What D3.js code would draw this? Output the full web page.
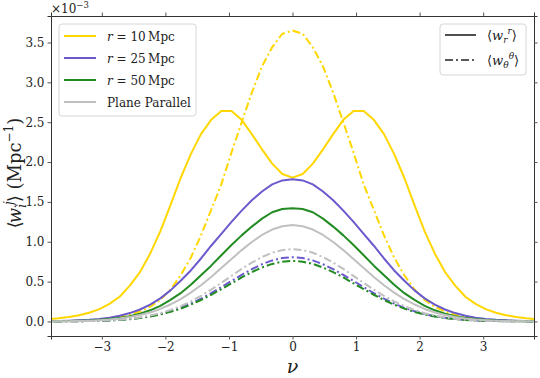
<!DOCTYPE html>
<html>
<head>
<meta charset="utf-8">
<script src="https://cdn.jsdelivr.net/npm/d3@7"></script>
<style>
  body { margin: 0; background: #fff; }
  text, tspan { font-family: "DejaVu Serif", "Liberation Serif", "Times New Roman", serif; fill: #222; }
</style>
</head>
<body>
<div id="chart"></div>
<script>
// nu grid of the curves
const nu = [-4.00, -3.84, -3.68, -3.52, -3.36, -3.20, -3.04, -2.88, -2.72, -2.56, -2.40, -2.24, -2.08,
  -1.92, -1.76, -1.60, -1.44, -1.28, -1.12, -0.96, -0.80, -0.64, -0.48, -0.32, -0.16, 0.00,
  0.16, 0.32, 0.48, 0.64, 0.80, 0.96, 1.12, 1.28, 1.44, 1.60, 1.76, 1.92, 2.08, 2.24, 2.40,
  2.56, 2.72, 2.88, 3.04, 3.20, 3.36, 3.52, 3.68, 3.84, 4.00];

// values in units of 1e-3 Mpc^-1
const r10rr = [0.02, 0.028, 0.039, 0.055, 0.078, 0.11, 0.155, 0.22, 0.31, 0.45, 0.62, 0.85, 1.13,
  1.46, 1.80, 2.10, 2.35, 2.53, 2.64, 2.64, 2.53, 2.35, 2.16, 1.98, 1.85, 1.805,
  1.85, 1.98, 2.16, 2.35, 2.53, 2.64, 2.64, 2.53, 2.35, 2.10, 1.80, 1.46, 1.13, 0.85, 0.62,
  0.45, 0.31, 0.22, 0.155, 0.11, 0.078, 0.055, 0.039, 0.028, 0.02];
const r10tt = [0.0015, 0.0025, 0.004, 0.006, 0.009, 0.014, 0.022, 0.035, 0.055, 0.085, 0.125, 0.185, 0.27,
  0.40, 0.58, 0.80, 1.08, 1.40, 1.72, 2.12, 2.50, 2.87, 3.20, 3.44, 3.61, 3.65,
  3.61, 3.44, 3.20, 2.87, 2.50, 2.12, 1.72, 1.40, 1.08, 0.80, 0.58, 0.40, 0.27, 0.185, 0.125,
  0.085, 0.055, 0.035, 0.022, 0.014, 0.009, 0.006, 0.004, 0.0025, 0.0015];
const r25rr = [0.003, 0.004, 0.006, 0.009, 0.014, 0.021, 0.032, 0.048, 0.072, 0.105, 0.15, 0.21, 0.29,
  0.39, 0.51, 0.64, 0.79, 0.95, 1.10, 1.25, 1.39, 1.52, 1.63, 1.72, 1.77, 1.785,
  1.77, 1.72, 1.63, 1.52, 1.39, 1.25, 1.10, 0.95, 0.79, 0.64, 0.51, 0.39, 0.29, 0.21, 0.15,
  0.105, 0.072, 0.048, 0.032, 0.021, 0.014, 0.009, 0.006, 0.004, 0.003];
const r25tt = [0.0003, 0.0005, 0.001, 0.002, 0.003, 0.005, 0.008, 0.013, 0.020, 0.030, 0.045, 0.066, 0.093,
  0.128, 0.171, 0.224, 0.286, 0.355, 0.430, 0.508, 0.585, 0.657, 0.718, 0.766, 0.796, 0.806,
  0.796, 0.766, 0.718, 0.657, 0.585, 0.508, 0.430, 0.355, 0.286, 0.224, 0.171, 0.128, 0.093, 0.066, 0.045,
  0.030, 0.020, 0.013, 0.008, 0.005, 0.003, 0.002, 0.001, 0.0005, 0.0003];
const r50rr = [0.001, 0.002, 0.003, 0.005, 0.008, 0.013, 0.02, 0.03, 0.045, 0.067, 0.098, 0.14, 0.195,
  0.27, 0.355, 0.46, 0.58, 0.70, 0.83, 0.96, 1.08, 1.19, 1.29, 1.37, 1.41, 1.42,
  1.41, 1.37, 1.29, 1.19, 1.08, 0.96, 0.83, 0.70, 0.58, 0.46, 0.355, 0.27, 0.195, 0.14, 0.098,
  0.067, 0.045, 0.03, 0.02, 0.013, 0.008, 0.005, 0.003, 0.002, 0.001];
const r50tt = [0.0003, 0.0005, 0.001, 0.002, 0.003, 0.005, 0.007, 0.012, 0.019, 0.029, 0.043, 0.062, 0.087,
  0.120, 0.161, 0.211, 0.269, 0.335, 0.405, 0.479, 0.552, 0.619, 0.677, 0.722, 0.750, 0.76,
  0.750, 0.722, 0.677, 0.619, 0.552, 0.479, 0.405, 0.335, 0.269, 0.211, 0.161, 0.120, 0.087, 0.062, 0.043,
  0.029, 0.019, 0.012, 0.007, 0.005, 0.003, 0.002, 0.001, 0.0005, 0.0003];
const pprr = [0.0008, 0.0013, 0.0022, 0.0037, 0.006, 0.0098, 0.0155, 0.024, 0.037, 0.055, 0.080, 0.113, 0.157,
  0.213, 0.281, 0.362, 0.455, 0.559, 0.670, 0.783, 0.895, 0.997, 1.085, 1.153, 1.195, 1.21,
  1.195, 1.153, 1.085, 0.997, 0.895, 0.783, 0.670, 0.559, 0.455, 0.362, 0.281, 0.213, 0.157, 0.113, 0.080,
  0.055, 0.037, 0.024, 0.0155, 0.0098, 0.006, 0.0037, 0.0022, 0.0013, 0.0008];
const pptt = [0.0003, 0.0006, 0.001, 0.002, 0.003, 0.005, 0.009, 0.014, 0.022, 0.034, 0.051, 0.074, 0.104,
  0.144, 0.193, 0.252, 0.322, 0.399, 0.484, 0.572, 0.659, 0.739, 0.808, 0.862, 0.895, 0.907,
  0.895, 0.862, 0.808, 0.739, 0.659, 0.572, 0.484, 0.399, 0.322, 0.252, 0.193, 0.144, 0.104, 0.074, 0.051,
  0.034, 0.022, 0.014, 0.009, 0.005, 0.003, 0.002, 0.001, 0.0006, 0.0003];

const seriesLabels = ["10", "25", "50", "Plane Parallel"];
const seriesColors = ["#FFD700", "#6A5ACD", "#228B22", "#C0C0C0"];
const seriesRR = [r10rr, r25rr, r50rr, pprr];
const seriesTT = [r10tt, r25tt, r50tt, pptt];

const xTicks = [-3, -2, -1, 0, 1, 2, 3];
const yTicks = [0, 0.5, 1.0, 1.5, 2.0, 2.5, 3.0, 3.5];
const xDomain = [-3.8, 3.8];
const yDomain = [-0.1825, 3.8325];

const W = 540, H = 378;
const margin = { top: 16, right: 6, bottom: 42, left: 51 };
const dashDot = "8,3,2,3";
const serif = '"DejaVu Serif", "Liberation Serif", serif';

const svg = d3.select('#chart').append('svg')
  .attr('width', W)
  .attr('height', H)
  .attr('viewBox', [0, 0, W, H])
  .attr('font-family', serif);

const x = d3.scaleLinear().domain(xDomain).range([margin.left, W - margin.right]);
const y = d3.scaleLinear().domain(yDomain).range([H - margin.bottom, margin.top]);

svg.append('clipPath').attr('id', 'plot-clip')
  .append('rect')
  .attr('x', margin.left).attr('y', margin.top)
  .attr('width', W - margin.left - margin.right)
  .attr('height', H - margin.top - margin.bottom);

// curves
const line = d3.line().x(d => x(d[0])).y(d => y(d[1]));
const curves = svg.append('g').attr('clip-path', 'url(#plot-clip)');
seriesLabels.forEach((lab, i) => {
  curves.append('path')
    .datum(nu.map((v, k) => [v, seriesRR[i][k]]))
    .attr('d', line)
    .attr('fill', 'none')
    .attr('stroke', seriesColors[i])
    .attr('stroke-width', 2)
    .attr('stroke-linejoin', 'round');
  curves.append('path')
    .datum(nu.map((v, k) => [v, seriesTT[i][k]]))
    .attr('d', line)
    .attr('fill', 'none')
    .attr('stroke', seriesColors[i])
    .attr('stroke-width', 2)
    .attr('stroke-dasharray', dashDot);
});

// axes, ticks on all four sides
const fmt = d3.format('.1f');
const axisStyle = (g, showLabels) => {
  g.attr('font-family', serif);
  g.select('.domain').attr('stroke', '#333');
  g.selectAll('.tick line').attr('stroke', '#555');
  g.selectAll('.tick text')
    .style('font-family', serif)
    .style('font-size', '12px')
    .attr('fill', '#333');
  if (!showLabels) g.selectAll('.tick text').remove();
};

svg.append('g')
  .attr('transform', `translate(0,${H - margin.bottom})`)
  .call(d3.axisBottom(x).tickValues(xTicks).tickSizeOuter(0).tickSize(3.5).tickPadding(3)
    .tickFormat(d => d < 0 ? '\u2212' + Math.abs(d) : d))
  .call(g => axisStyle(g, true));
svg.append('g')
  .attr('transform', `translate(0,${margin.top})`)
  .call(d3.axisTop(x).tickValues(xTicks).tickSizeOuter(0).tickSize(3.5))
  .call(g => axisStyle(g, false));
svg.append('g')
  .attr('transform', `translate(${margin.left},0)`)
  .call(d3.axisLeft(y).tickValues(yTicks).tickSizeOuter(0).tickSize(3.5).tickPadding(3).tickFormat(fmt))
  .call(g => axisStyle(g, true));
svg.append('g')
  .attr('transform', `translate(${W - margin.right},0)`)
  .call(d3.axisRight(y).tickValues(yTicks).tickSizeOuter(0).tickSize(3.5))
  .call(g => axisStyle(g, false));

// small helper to write math-like text with tspans
function mathText(sel, parts) {
  parts.forEach(p => {
    const t = sel.append('tspan').text(p.t);
    if (p.i) t.style('font-style', 'italic');
    if (p.s) t.style('font-size', p.s + 'px');
    if (p.dy) t.attr('dy', p.dy);
    if (p.dx) t.attr('dx', p.dx);
  });
  return sel;
}

// offset text
mathText(svg.append('text').attr('x', margin.left).attr('y', 13).style('font-size', '12px'), [
  { t: '\u00d710' }, { t: '\u22123', s: 8.5, dy: -5 }
]);

// axis labels
mathText(svg.append('text')
  .attr('transform', `translate(21,${(margin.top + H - margin.bottom) / 2 - 3}) rotate(-90)`)
  .attr('text-anchor', 'middle')
  .style('font-size', '18px'), [
  { t: '\u27e8' }, { t: 'w', i: true, dx: -2 }, { t: 'i', i: true, s: 12, dy: 5 },
  { t: 'j', i: true, s: 12, dy: -13, dx: -1 }, { t: '\u27e9', dy: 8, dx: -1 },
  { t: ' (Mpc' }, { t: '\u22121', s: 12, dy: -8 }, { t: ')', dy: 8 }
]);

svg.append('text')
  .attr('x', x(0)).attr('y', 373)
  .attr('text-anchor', 'middle')
  .style('font-size', '19px')
  .style('font-style', 'italic')
  .text('\u03bd');

// legend: radii
const leg1 = svg.append('g');
leg1.append('rect')
  .attr('x', 59).attr('y', 24).attr('width', 137).attr('height', 92).attr('rx', 3)
  .attr('fill', '#fff').attr('fill-opacity', 0.8)
  .attr('stroke', '#d6d6d6');
seriesLabels.forEach((lab, i) => {
  const ry = 36 + i * 22;
  leg1.append('line')
    .attr('x1', 64).attr('x2', 96).attr('y1', ry).attr('y2', ry)
    .attr('stroke', seriesColors[i]).attr('stroke-width', 2);
  const t = leg1.append('text').attr('x', 107).attr('y', ry + 4.5).style('font-size', '12px');
  if (i < 3) {
    mathText(t, [{ t: 'r', i: true }, { t: ' = ' + lab + '\u2009Mpc' }]);
  } else {
    t.text(lab);
  }
});

// legend: components
const leg2 = svg.append('g');
leg2.append('rect')
  .attr('x', 440).attr('y', 24).attr('width', 86).attr('height', 51).attr('rx', 3)
  .attr('fill', '#fff').attr('fill-opacity', 0.8)
  .attr('stroke', '#d6d6d6');
const compSub = ['r', '\u03b8'];
compSub.forEach((c, i) => {
  const ry = 35 + i * 25;
  leg2.append('line')
    .attr('x1', 445).attr('x2', 476).attr('y1', ry).attr('y2', ry)
    .attr('stroke', '#222').attr('stroke-width', 1.6)
    .attr('stroke-dasharray', i ? dashDot : null);
  mathText(leg2.append('text').attr('x', 487).attr('y', ry + 5).style('font-size', '13px'), [
    { t: '\u27e8' }, { t: 'w', i: true }, { t: c, i: true, s: 9, dy: 3 },
    { t: c, i: true, s: 9, dy: -9 }, { t: '\u27e9', dy: 6 }
  ]);
});
</script>
</body>
</html>
